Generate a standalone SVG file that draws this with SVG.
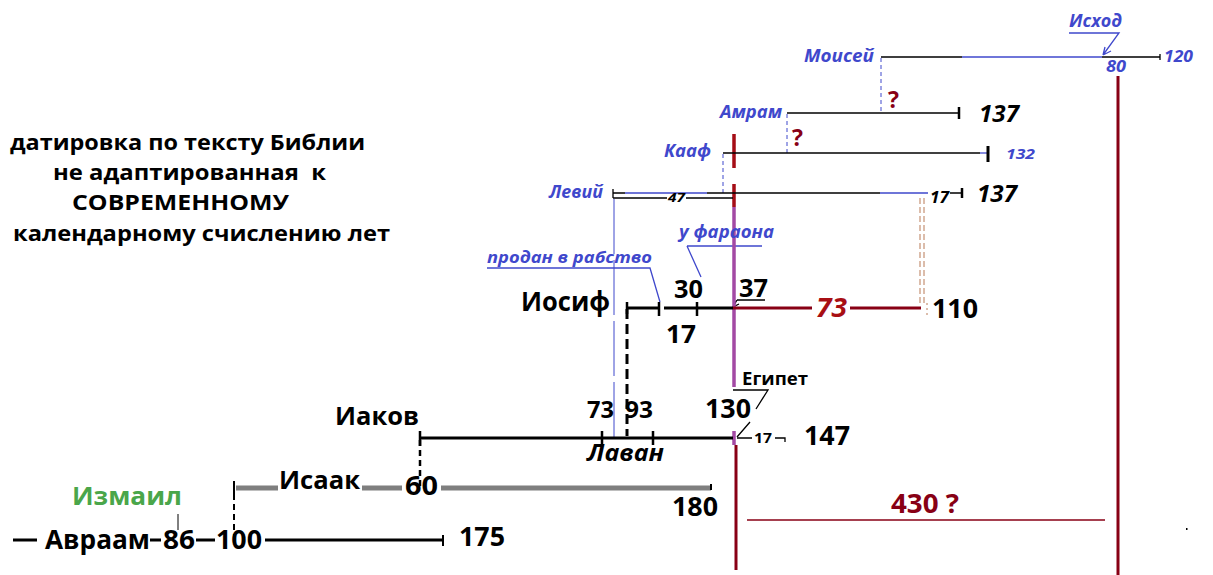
<svg xmlns="http://www.w3.org/2000/svg" width="1213" height="575" viewBox="0 0 1213 575">
<style>
text{font-family:"Open Sans","Liberation Sans",sans-serif;font-weight:bold}
.bl{fill:#3f48cc;font-style:italic}
.k{fill:#000}
.it{font-style:italic}
.dr{fill:#880015}
.ln{stroke:#000;stroke-width:1.3;fill:none}
.thk{stroke:#000;stroke-width:3;fill:none}
.bln{stroke:#3f48cc;stroke-width:1.3;fill:none}
.dash{stroke:#3f48cc;stroke-width:1;stroke-dasharray:4 3;fill:none}
</style>
<rect width="1213" height="575" fill="#fff"/>

<g id="title">
<text x="10" y="150" font-size="21" textLength="355" lengthAdjust="spacingAndGlyphs">датировка по тексту Библии</text>
<text x="53" y="180" font-size="21" textLength="273" lengthAdjust="spacingAndGlyphs">не адаптированная&#160; к</text>
<text x="72" y="210" font-size="21" textLength="217" lengthAdjust="spacingAndGlyphs">СОВРЕМЕННОМУ</text>
<text x="13" y="241" font-size="21" textLength="377" lengthAdjust="spacingAndGlyphs">календарному счислению лет</text>
</g>

<g id="connectors">
<path class="dash" d="M881 58V113M787 114V153M723 154V193"/>
<path d="M614 199V437" stroke="#3f48cc" stroke-width="1" stroke-dasharray="55 6" fill="none"/>
<path d="M627 309V436" stroke="#000" stroke-width="3" stroke-dasharray="10 5" fill="none"/>
<path d="M420 440V487" stroke="#000" stroke-width="2.5" stroke-dasharray="6 4" fill="none"/>
<path d="M234 494V538" stroke="#000" stroke-width="2" stroke-dasharray="6 4" fill="none"/>
<path d="M920 198V306M924 198V306" stroke="#b97a57" stroke-width="1" stroke-dasharray="6 3" fill="none"/>
<path d="M927 303V318" stroke="#b97a57" stroke-width="1" stroke-dasharray="2 3" fill="none"/>
<path class="bln" d="M1069 33H1119L1103 55M1103 55L1105 47M1103 55L1111 51"/>
<path class="bln" d="M487 268H650L660 302"/>
<path class="bln" d="M687 246H762M687 246L701 277"/>
<path class="ln" stroke-width="1" d="M737 300H765M737 300L733 307M733 307L739 304M733 307L736 301"/>
<path class="ln" stroke-width="1" d="M733 390H768L756 409M750 422L737 437"/>
<path d="M734 134V168M734 184V207" stroke="#a50d16" stroke-width="3.5"/>
<path d="M734 207V387M734 431V445" stroke="#a349a4" stroke-width="3.5"/>
<path d="M736 445V570" stroke="#880015" stroke-width="3"/>
<path d="M1118 76V575" stroke="#880015" stroke-width="3"/>
</g>

<g id="moses">
<path class="ln" d="M881 57H962M1102 57H1160M1160 54V60"/>
<path class="bln" d="M962 57H1102"/>
<text class="bl" x="804" y="62" font-size="17" textLength="70" lengthAdjust="spacingAndGlyphs">Моисей</text>
<text class="bl" x="1164" y="62" font-size="16" textLength="29" lengthAdjust="spacingAndGlyphs">120</text>
<text class="bl" x="1106" y="72" font-size="16" textLength="20" lengthAdjust="spacingAndGlyphs">80</text>
</g>

<g id="exodus">
<text class="bl" x="1069" y="27" font-size="17" textLength="53" lengthAdjust="spacingAndGlyphs">Исход</text>
</g>

<g id="amram">
<path class="ln" d="M787 113H960"/>
<path d="M959 107V119" stroke="#000" stroke-width="2.5"/>
<text class="dr" x="888" y="108" font-size="23">?</text>
<text class="bl" x="720" y="118" font-size="17" textLength="62" lengthAdjust="spacingAndGlyphs">Амрам</text>
<text class="k it" x="979" y="122" font-size="23" textLength="40" lengthAdjust="spacingAndGlyphs">137</text>
</g>

<g id="kohath">
<path class="ln" d="M723 153H980"/>
<path class="bln" d="M980 153H988"/>
<path d="M988 146V162" stroke="#000" stroke-width="3"/>
<text class="dr" x="792" y="146" font-size="23">?</text>
<text class="bl" x="664" y="157" font-size="17" textLength="47" lengthAdjust="spacingAndGlyphs">Кааф</text>
<text class="bl" x="1006" y="159" font-size="15" textLength="29" lengthAdjust="spacingAndGlyphs">132</text>
</g>

<g id="levi">
<path class="ln" d="M613 193H625M707 193H880M950 193H962M613 189V198M613 198H667M686 198H733"/>
<path class="bln" d="M625 193H707M880 193H928"/>
<path d="M962 188V198" stroke="#000" stroke-width="2.5"/>
<text class="bl" x="549" y="198" font-size="17" textLength="54" lengthAdjust="spacingAndGlyphs">Левий</text>
<text class="k it" x="668" y="202" font-size="13" textLength="17" lengthAdjust="spacingAndGlyphs">47</text>
<text class="k it" x="930" y="203" font-size="16" textLength="19" lengthAdjust="spacingAndGlyphs">17</text>
<text class="k it" x="977" y="202" font-size="23" textLength="40" lengthAdjust="spacingAndGlyphs">137</text>
</g>

<g id="joseph">
<path class="thk" d="M627 308H659M664 308H733"/>
<path d="M627 302V314M659 302V316M697 302V316" stroke="#000" stroke-width="2.5"/>
<path d="M733 308H812M850 308H921" stroke="#880015" stroke-width="3"/>
<text class="bl" x="679" y="238" font-size="17" textLength="95" lengthAdjust="spacingAndGlyphs">у фараона</text>
<text class="bl" x="487" y="263" font-size="16" textLength="165" lengthAdjust="spacingAndGlyphs">продан в рабство</text>
<text class="k" x="521" y="311" font-size="27" textLength="89" lengthAdjust="spacingAndGlyphs">Иосиф</text>
<text class="k" x="674" y="298" font-size="25" textLength="29" lengthAdjust="spacingAndGlyphs">30</text>
<text class="k" x="666" y="343" font-size="25" textLength="30" lengthAdjust="spacingAndGlyphs">17</text>
<text class="k" x="739" y="297" font-size="25" textLength="29" lengthAdjust="spacingAndGlyphs">37</text>
<text class="it" fill="#a80f14" x="816" y="317" font-size="26" textLength="31" lengthAdjust="spacingAndGlyphs">73</text>
<text class="k" x="932" y="318" font-size="26" textLength="46" lengthAdjust="spacingAndGlyphs">110</text>
</g>

<g id="jacob">
<path class="thk" d="M420 438H733"/>
<path d="M420 431V446M602 431V445M653 431V445" stroke="#000" stroke-width="2.5"/>
<path class="ln" stroke-width="2" d="M737 438H752M775 438H785V442"/>
<text class="k" x="742" y="385" font-size="17" textLength="66" lengthAdjust="spacingAndGlyphs">Египет</text>
<text class="k" x="335" y="425" font-size="25" textLength="84" lengthAdjust="spacingAndGlyphs">Иаков</text>
<text class="k" x="587" y="418" font-size="24" textLength="27" lengthAdjust="spacingAndGlyphs">73</text>
<text class="k" x="625" y="418" font-size="24" textLength="28" lengthAdjust="spacingAndGlyphs">93</text>
<text class="k" x="705" y="418" font-size="27" textLength="46" lengthAdjust="spacingAndGlyphs">130</text>
<text class="k it" x="587" y="461" font-size="24" textLength="77" lengthAdjust="spacingAndGlyphs">Лаван</text>
<text class="k" x="754" y="443" font-size="14" textLength="18" lengthAdjust="spacingAndGlyphs">17</text>
<text class="k" x="804" y="445" font-size="27" textLength="46" lengthAdjust="spacingAndGlyphs">147</text>
</g>

<g id="isaac">
<path d="M236 488H278M362 488H402M441 488H711" stroke="#7f7f7f" stroke-width="5" fill="none"/>
<path d="M234 481V494M711 484V490" stroke="#000" stroke-width="2"/>
<text class="k" x="279" y="489" font-size="25" textLength="81" lengthAdjust="spacingAndGlyphs">Исаак</text>
<text class="k" x="405" y="495" font-size="26" textLength="33" lengthAdjust="spacingAndGlyphs">60</text>
<text class="k" x="672" y="516" font-size="26" textLength="46" lengthAdjust="spacingAndGlyphs">180</text>
</g>

<g id="ishmael">
<path d="M178 514V530" stroke="#000" stroke-width="1"/>
<text x="72" y="505" font-size="25" fill="#4aa64a" textLength="110" lengthAdjust="spacingAndGlyphs">Измаил</text>
</g>

<g id="abraham">
<path class="thk" d="M13 540H37M150 540H161M196 540H215M265 540H443"/>
<path d="M443 535V546" stroke="#000" stroke-width="2"/>
<text class="k" x="45" y="549" font-size="26" textLength="105" lengthAdjust="spacingAndGlyphs">Авраам</text>
<text class="k" x="163" y="549" font-size="26" textLength="32" lengthAdjust="spacingAndGlyphs">86</text>
<text class="k" x="216" y="549" font-size="26" textLength="46" lengthAdjust="spacingAndGlyphs">100</text>
<text class="k" x="459" y="546" font-size="26" textLength="46" lengthAdjust="spacingAndGlyphs">175</text>
</g>

<g id="sojourn-430">
<path d="M747 520H1105" stroke="#880015" stroke-width="1.5"/>
<text class="dr" x="891" y="513" font-size="27" textLength="68" lengthAdjust="spacingAndGlyphs">430 ?</text>
<rect x="1186" y="528" width="1.5" height="2" fill="#000"/>
</g>
</svg>
